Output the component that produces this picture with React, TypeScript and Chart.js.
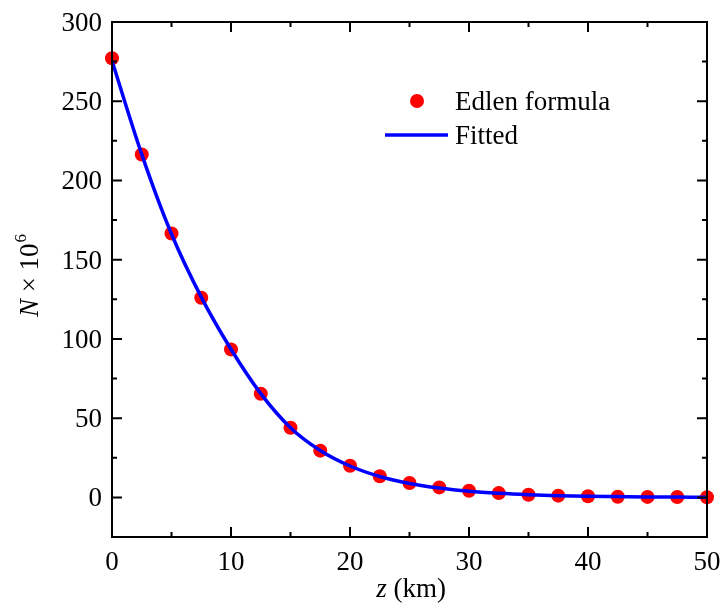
import React, { useEffect, useRef } from "react";
import { Chart, registerables } from "chart.js";

Chart.register(...registerables);

const zValues = [0, 2.5, 5, 7.5, 10, 12.5, 15, 17.5, 20, 22.5, 25, 27.5, 30, 32.5, 35, 37.5, 40, 42.5, 45, 47.5, 50];
const edlenValues = [277.1, 216.4, 166.5, 126.0, 93.4, 65.4, 43.9, 29.5, 20.0, 13.3, 9.1, 6.3, 4.2, 2.7, 1.7, 1.1, 0.7, 0.4, 0.3, 0.2, 0.1];
const fittedValues = [275.5, 216.5, 166.2, 126.4, 93.5, 65.5, 44.0, 29.6, 19.8, 13.2, 8.8, 5.9, 3.9, 2.6, 1.7, 1.1, 0.7, 0.5, 0.3, 0.2, 0.1];
const xMajorTicks = [0, 10, 20, 30, 40, 50];
const xMinorTicks = [5, 15, 25, 35, 45];
const yMajorTicks = [0, 50, 100, 150, 200, 250, 300];
const yMinorTicks = [-25, 25, 75, 125, 175, 225, 275];
const seriesNames = ["Edlen formula", "Fitted"];

const FONT = "'Liberation Serif', 'Times New Roman', serif";
const FS = 27;

const framePlugin = {
  id: "frame",
  afterDraw(chart: any) {
    const { ctx, chartArea } = chart;
    const { left, right, top, bottom } = chartArea;
    const xs = chart.scales.x;
    const ys = chart.scales.y;
    ctx.save();
    ctx.strokeStyle = "#000";
    ctx.lineWidth = 2;
    ctx.beginPath();
    ctx.rect(left, top, right - left, bottom - top);
    ctx.stroke();
    const major = 10;
    const minor = 5;
    ctx.beginPath();
    const xt = (v: number, len: number) => {
      const px = xs.getPixelForValue(v);
      ctx.moveTo(px, bottom);
      ctx.lineTo(px, bottom - len);
      ctx.moveTo(px, top);
      ctx.lineTo(px, top + len);
    };
    const yt = (v: number, len: number) => {
      const py = ys.getPixelForValue(v);
      ctx.moveTo(left, py);
      ctx.lineTo(left + len, py);
      ctx.moveTo(right, py);
      ctx.lineTo(right - len, py);
    };
    xMajorTicks.forEach((v) => xt(v, major));
    xMinorTicks.forEach((v) => xt(v, minor));
    yMajorTicks.forEach((v) => yt(v, major));
    yMinorTicks.forEach((v) => yt(v, minor));
    ctx.stroke();

    // tick labels
    ctx.fillStyle = "#000";
    ctx.font = `${FS}px ${FONT}`;
    ctx.textBaseline = "alphabetic";
    ctx.textAlign = "center";
    xMajorTicks.forEach((v) => {
      ctx.fillText(String(v), xs.getPixelForValue(v), 570);
    });
    ctx.textAlign = "right";
    yMajorTicks.forEach((v) => {
      ctx.fillText(String(v), left - 10, ys.getPixelForValue(v) + 9);
    });

    // legend
    ctx.fillStyle = "#ff0000";
    ctx.beginPath();
    ctx.arc(417, 101, 7, 0, Math.PI * 2);
    ctx.fill();
    ctx.strokeStyle = "#0000ff";
    ctx.lineWidth = 3.5;
    ctx.beginPath();
    ctx.moveTo(385, 135);
    ctx.lineTo(448, 135);
    ctx.stroke();
    ctx.fillStyle = "#000";
    ctx.font = `${FS}px ${FONT}`;
    ctx.textBaseline = "alphabetic";
    ctx.textAlign = "left";
    ctx.fillText(seriesNames[0], 455, 110);
    ctx.fillText(seriesNames[1], 455, 144);

    // x title
    const cx = 411;
    const t1 = "z";
    const t2 = " (km)";
    ctx.font = `italic ${FS}px ${FONT}`;
    const w1 = ctx.measureText(t1).width;
    ctx.font = `${FS}px ${FONT}`;
    const w2 = ctx.measureText(t2).width;
    const sx = cx - (w1 + w2) / 2;
    ctx.font = `italic ${FS}px ${FONT}`;
    ctx.fillText(t1, sx, 597);
    ctx.font = `${FS}px ${FONT}`;
    ctx.fillText(t2, sx + w1, 597);

    // y title
    ctx.translate(38, 276);
    ctx.rotate(-Math.PI / 2);
    const a = "N";
    const b = " \u00d7 10";
    const c = "6";
    ctx.font = `italic ${FS}px ${FONT}`;
    const wa = ctx.measureText(a).width;
    ctx.font = `${FS}px ${FONT}`;
    const wb = ctx.measureText(b).width;
    ctx.font = `17px ${FONT}`;
    const wc = ctx.measureText(c).width;
    const yx = -(wa + wb + wc) / 2;
    ctx.font = `italic ${FS}px ${FONT}`;
    ctx.fillText(a, yx, 0);
    ctx.font = `${FS}px ${FONT}`;
    ctx.fillText(b, yx + wa, 0);
    ctx.font = `17px ${FONT}`;
    ctx.fillText(c, yx + wa + wb + 1, -12);
    ctx.restore();
  },
};

export default function App() {
  const ref = useRef<HTMLCanvasElement | null>(null);
  useEffect(() => {
    document.body.style.margin = "0";
    const canvas = ref.current;
    if (!canvas) return;
    const chart = new Chart(canvas, {
      type: "line",
      data: {
        labels: zValues,
        datasets: [
          {
            label: seriesNames[1],
            data: zValues.map((x, i) => ({ x, y: fittedValues[i] })),
            borderColor: "#0000ff",
            backgroundColor: "#0000ff",
            borderWidth: 3.5,
            pointRadius: 0,
            cubicInterpolationMode: "monotone",
            fill: false,
          },
          {
            label: seriesNames[0],
            data: zValues.map((x, i) => ({ x, y: edlenValues[i] })),
            showLine: false,
            pointRadius: 7,
            pointBackgroundColor: "#ff0000",
            pointBorderWidth: 0,
            pointBorderColor: "#ff0000",
            backgroundColor: "#ff0000",
            borderColor: "#ff0000",
            clip: false,
          },
        ],
      } as any,
      options: {
        animation: false,
        responsive: true,
        maintainAspectRatio: false,
        layout: { padding: { top: 22, right: 15, left: 0, bottom: 0 } },
        plugins: { legend: { display: false }, tooltip: { enabled: false } },
        events: [],
        scales: {
          x: {
            type: "linear",
            min: 0,
            max: 50,
            grid: { display: false, drawTicks: false },
            border: { display: false },
            afterBuildTicks: (s: any) => {
              s.ticks = xMajorTicks.map((v) => ({ value: v }));
            },
            afterFit: (s: any) => {
              s.height = 68;
            },
            ticks: { display: false },
          },
          y: {
            type: "linear",
            min: -25,
            max: 300,
            grid: { display: false, drawTicks: false },
            border: { display: false },
            afterBuildTicks: (s: any) => {
              s.ticks = yMajorTicks.map((v) => ({ value: v }));
            },
            afterFit: (s: any) => {
              s.width = 112;
            },
            ticks: { display: false },
          },
        },
      } as any,
      plugins: [framePlugin],
    });
    return () => chart.destroy();
  }, []);
  return (
    <div style={{ width: 722, height: 605, position: "relative" }}>
      <canvas ref={ref} />
    </div>
  );
}
